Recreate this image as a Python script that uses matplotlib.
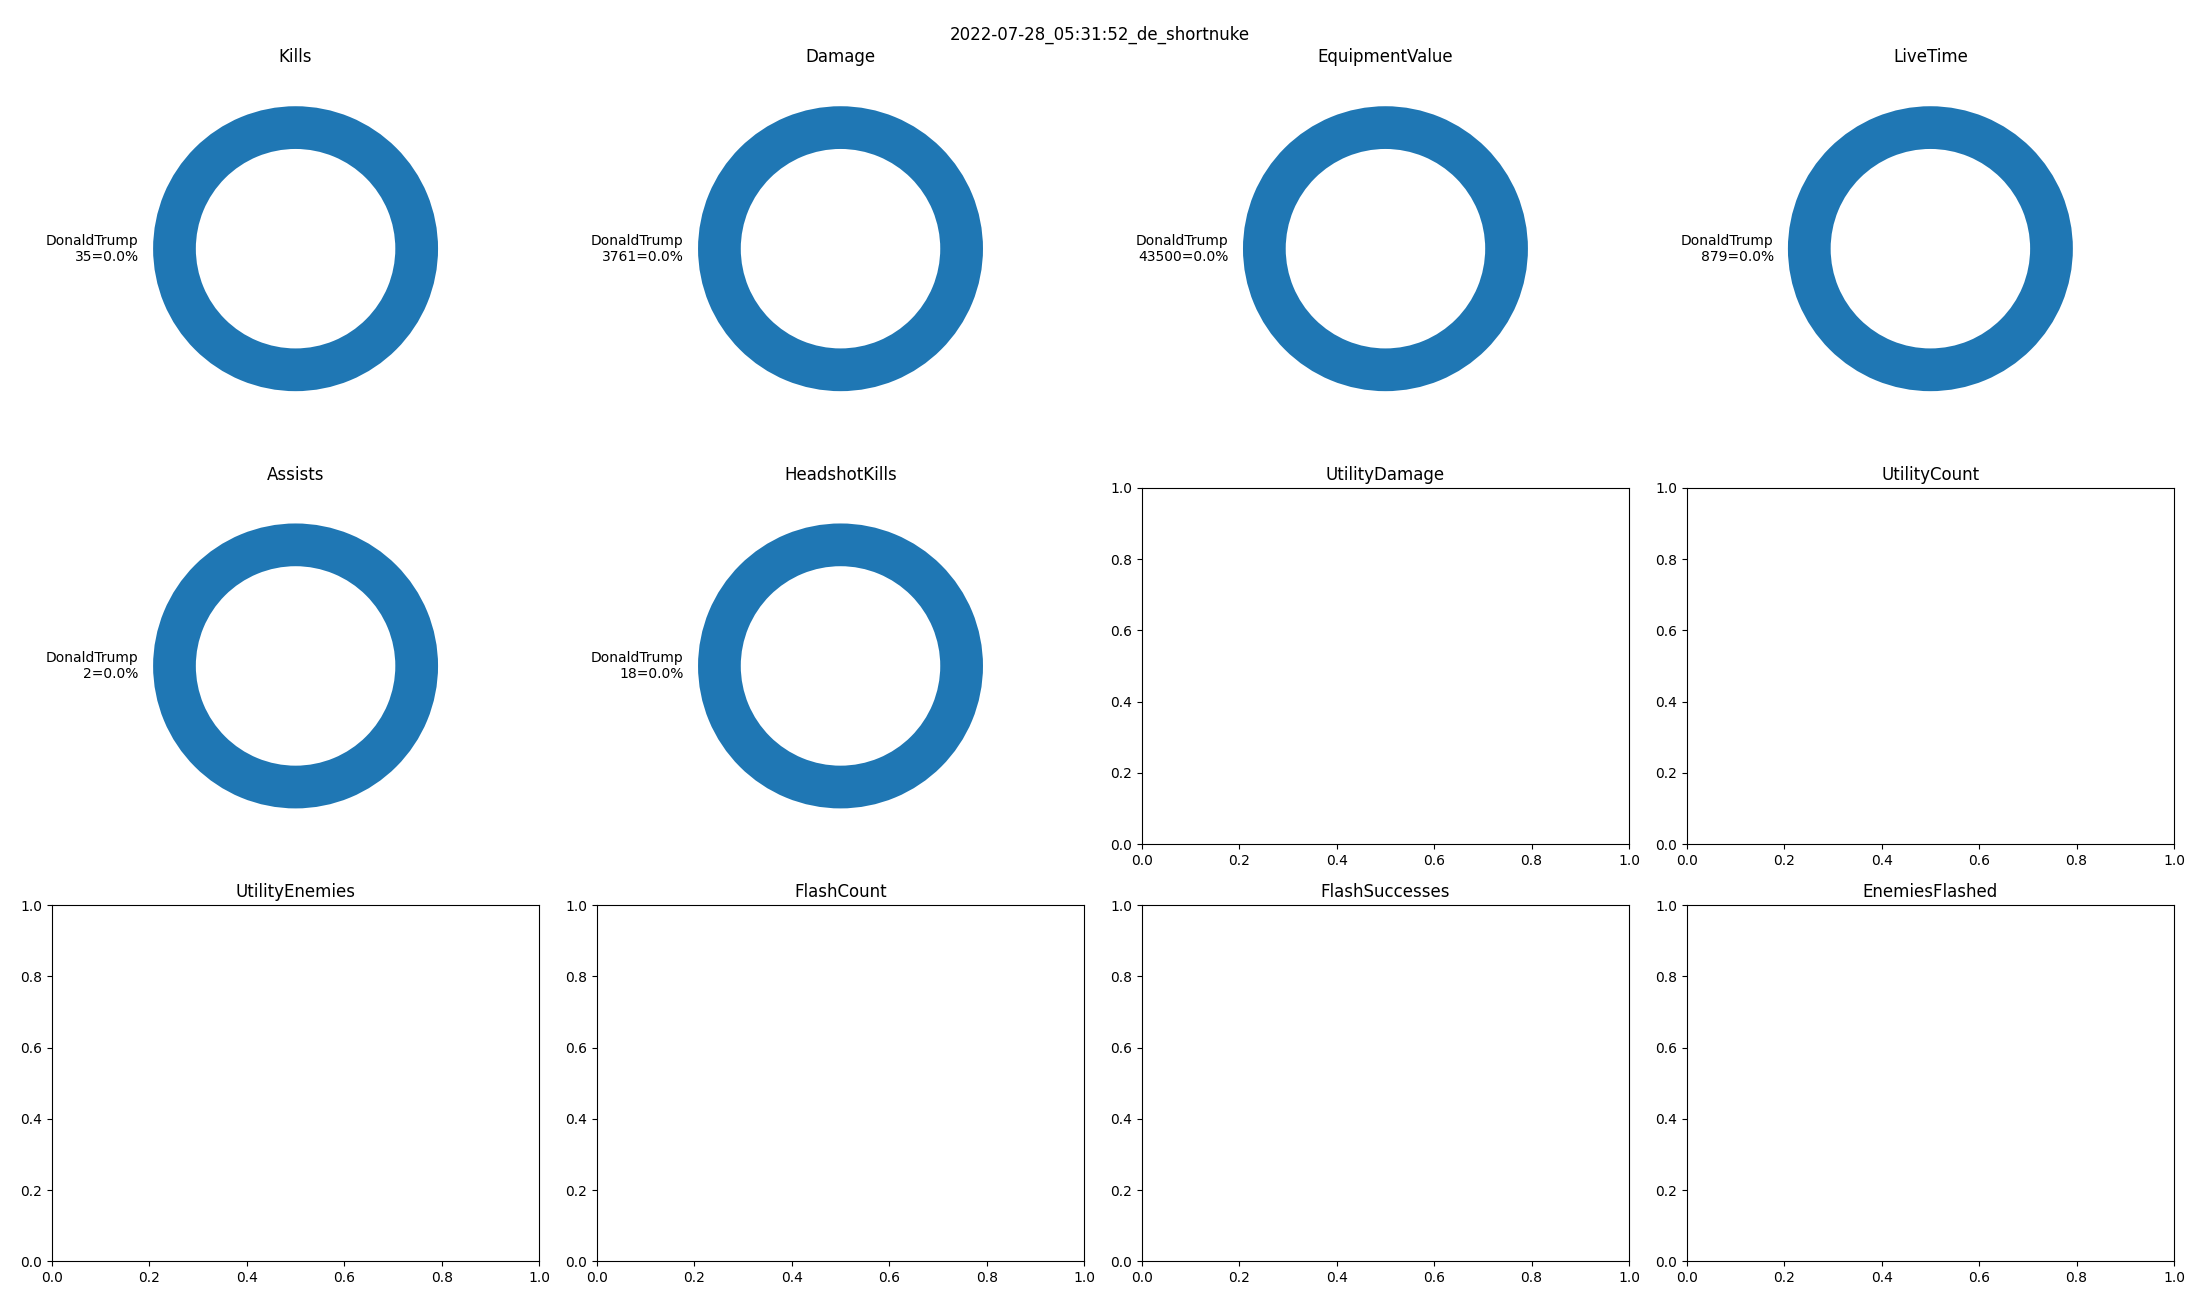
import matplotlib
matplotlib.use('Agg')
import matplotlib.pyplot as plt

title = '2022-07-28_05:31:52_de_shortnuke'
player = 'DonaldTrump'

# stats in panel order
stat_names = ['Kills', 'Damage', 'EquipmentValue', 'LiveTime',
              'Assists', 'HeadshotKills', 'UtilityDamage', 'UtilityCount',
              'UtilityEnemies', 'FlashCount', 'FlashSuccesses', 'EnemiesFlashed']
# only the first six have a value for the player
stat_values = [35, 3761, 43500, 879, 2, 18]

fig, axes = plt.subplots(3, 4, figsize=(22, 13))
fig.suptitle(title)

for i, ax in enumerate(axes.flat):
    name = stat_names[i]
    ax.set_title(name)
    if i < len(stat_values):
        v = stat_values[i]
        ax.pie([v], labels=[f'{player}\n{v}=0.0%'],
               wedgeprops={'width': 0.3})

fig.tight_layout()
fig.savefig('out.png', dpi=100)
